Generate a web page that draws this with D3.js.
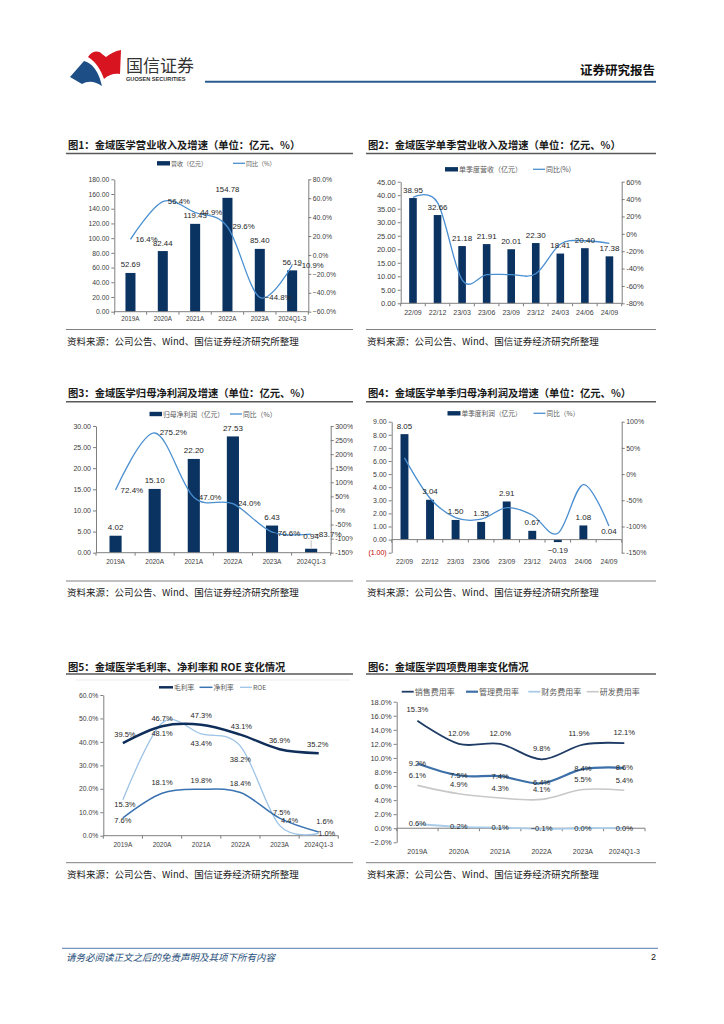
<!DOCTYPE html>
<html>

<head>
  <meta charset="UTF-8" />
  <title>金域医学 经营数据</title>
  <style>
    body {
      margin: 0;
      background: #ffffff;
    }
  </style>
  <script src="https://d3js.org/d3.v7.min.js"></script>
</head>

<body>
  <div id="page"></div>
  <script>
    // ---- data ----
    const years = ["2019A", "2020A", "2021A", "2022A", "2023A", "2024Q1-3"];
    const quarters = ["22/09", "22/12", "23/03", "23/06", "23/09", "23/12", "24/03", "24/06", "24/09"];

    const revenue = [52.69, 82.44, 119.43, 154.78, 85.40, 56.19];
    const revenueYoy = [16.4, 56.4, 44.9, 29.6, -44.8, -10.9];

    const qRevenue = [38.95, 32.66, 21.18, 21.91, 20.01, 22.30, 18.41, 20.40, 17.38];
    const qRevenueYoy = [42, 36, -53, -47, -47, -46, -12, -8, -11];

    const netProfit = [4.02, 15.10, 22.20, 27.53, 6.43, 0.94];
    const netProfitYoy = [72.4, 275.2, 47.0, 24.0, -76.6, -83.7];

    const qNetProfit = [8.05, 3.04, 1.50, 1.35, 2.91, 0.67, -0.19, 1.08, 0.04];
    const qNetProfitYoy = [31, -46, -83, -86, -64, -78, -113, -20, -99];

    const grossMargin = [39.5, 46.7, 47.3, 43.1, 36.9, 35.2];
    const netMargin = [7.6, 18.1, 19.8, 18.4, 7.5, 1.6];
    const roe = [15.3, 48.1, 43.4, 38.2, 4.4, 1.0];

    const sellingRate = [15.3, 12.0, 12.0, 9.8, 11.9, 12.1];
    const adminRate = [9.2, 7.5, 7.4, 6.4, 8.4, 8.6];
    const financeRate = [0.6, 0.2, 0.1, -0.1, 0.0, 0.0];
    const rdRate = [6.1, 4.9, 4.3, 4.1, 5.5, 5.4];

    // tick values
    const c1LeftTicks = [0, 20, 40, 60, 80, 100, 120, 140, 160, 180];
    const c1RightTicks = [-60, -40, -20, 0, 20, 40, 60, 80];
    const c2LeftTicks = [0, 5, 10, 15, 20, 25, 30, 35, 40, 45];
    const c2RightTicks = [-80, -60, -40, -20, 0, 20, 40, 60];
    const c3LeftTicks = [0, 5, 10, 15, 20, 25, 30];
    const c3RightTicks = [-150, -100, -50, 0, 50, 100, 150, 200, 250, 300];
    const c4LeftTicks = [-1, 0, 1, 2, 3, 4, 5, 6, 7, 8, 9];
    const c4RightTicks = [-150, -100, -50, 0, 50, 100];
    const c5Ticks = [0, 10, 20, 30, 40, 50, 60];
    const c6Ticks = [-2, 0, 2, 4, 6, 8, 10, 12, 14, 16, 18];

    // ---- styles ----
    const NAVY = "#0b3362";
    const BLUE = "#4a8fd0";
    const CN = '"Noto Sans CJK SC", sans-serif';
    const NUM = '"Liberation Sans", Arial, sans-serif';
    const SOURCE = "资料来源：公司公告、Wind、国信证券经济研究所整理";

    const fmt2 = d3.format(".2f");
    const pct1 = d => d3.format(".1f")(d) + "%";
    const pct0 = d => d + "%";

    const svg = d3.select("#page").append("svg")
      .attr("width", 724).attr("height", 1024)
      .style("display", "block");
    svg.append("rect").attr("width", 724).attr("height", 1024).attr("fill", "#fff");

    /* Header */
    svg.append("path")
      .attr("d", "M88,57 C92,51 98,50 102,54 L106,57 C110,54 115,51 121,50 L120,74 C114,73 108,75 104,79 C101,70 96,62 88,57 Z")
      .attr("fill", "#d7141f");
    svg.append("path")
      .attr("d", "M70,77 L84,61 C92,63 97,70 100,79 L102,86 C96,82 89,80 82,84 Z")
      .attr("fill", "#1d4f86");
    svg.append("text").attr("x", 126).attr("y", 64).attr("dominant-baseline", "central")
      .style("font-family", CN).style("font-size", "17px").attr("fill", "#333").text("国信证券");
    svg.append("text").attr("x", 126).attr("y", 78.5).attr("dominant-baseline", "central")
      .style("font-family", NUM).style("font-size", "5.6px").style("font-weight", "bold")
      .attr("fill", "#333").text("GUOSEN SECURITIES");
    svg.append("text").attr("x", 655).attr("y", 69).attr("dominant-baseline", "central")
      .attr("text-anchor", "end")
      .style("font-family", CN).style("font-size", "12.5px").style("font-weight", "bold")
      .attr("fill", "#111").text("证券研究报告");
    svg.append("line").attr("x1", 205).attr("x2", 656).attr("y1", 81.7).attr("y2", 81.7)
      .attr("stroke", "#2b5c8f").attr("stroke-width", 2);

    /* Footer */
    svg.append("line").attr("x1", 62).attr("x2", 658).attr("y1", 948.3).attr("y2", 948.3)
      .attr("stroke", "#4f7fae").attr("stroke-width", 1);
    svg.append("text").attr("x", 66).attr("y", 957).attr("dominant-baseline", "central")
      .style("font-family", CN).style("font-size", "9.5px").style("font-style", "italic")
      .attr("fill", "#1f4e79").text("请务必阅读正文之后的免责声明及其项下所有内容");
    svg.append("text").attr("x", 656).attr("y", 957).attr("dominant-baseline", "central")
      .attr("text-anchor", "end")
      .style("font-family", NUM).style("font-size", "9px").attr("fill", "#111").text("2");

    /* Panel frame: title, rule, source */
    function panel(x0, x1, titleY, ruleY, title, srcRuleY, srcY) {
      svg.append("text").attr("x", x0 + 2).attr("y", titleY).attr("dominant-baseline", "central")
        .style("font-family", CN).style("font-size", "10.3px").style("font-weight", "bold")
        .attr("fill", "#1a1a1a").text(title);
      svg.append("line").attr("x1", x0).attr("x2", x1).attr("y1", ruleY).attr("y2", ruleY)
        .attr("stroke", "#595959").attr("stroke-width", 1.5);
      svg.append("line").attr("x1", x0).attr("x2", x1).attr("y1", srcRuleY).attr("y2", srcRuleY)
        .attr("stroke", "#808080").attr("stroke-width", 1);
      svg.append("text").attr("x", x0 + 1).attr("y", srcY).attr("dominant-baseline", "central")
        .style("font-family", CN).style("font-size", "9.5px")
        .attr("fill", "#1a1a1a").text(SOURCE);
    }

    function legend(items, y, fs) {
      items.forEach(it => {
        if (it.type === "bar") {
          svg.append("rect").attr("x", it.x).attr("y", y - 2.2).attr("width", it.w).attr("height", 4.4)
            .attr("fill", it.color);
        } else {
          svg.append("line").attr("x1", it.x).attr("x2", it.x + it.w).attr("y1", y).attr("y2", y)
            .attr("stroke", it.color).attr("stroke-width", it.sw);
        }
        svg.append("text").attr("x", it.x + it.w + 1).attr("y", y).attr("dominant-baseline", "central")
          .style("font-family", CN).style("font-size", fs + "px")
          .attr("fill", "#595959").text(it.label);
      });
    }

    function styleAxis(sel, fs) {
      sel.select(".domain").attr("stroke", "#7f7f7f");
      sel.selectAll(".tick line").attr("stroke", "#7f7f7f");
      sel.selectAll(".tick text").attr("fill", "#404040")
        .style("font-family", NUM).style("font-size", fs + "px");
      return sel;
    }

    function xAxis(g, x, cats, y0, labelY, fs) {
      const [a, b] = x.range();
      g.append("line").attr("x1", a).attr("x2", b).attr("y1", y0).attr("y2", y0)
        .attr("stroke", "#7f7f7f");
      g.selectAll("line.xt").data(d3.range(cats.length + 1)).join("line")
        .attr("class", "xt")
        .attr("x1", i => a + i * x.step()).attr("x2", i => a + i * x.step())
        .attr("y1", y0).attr("y2", y0 + 3)
        .attr("stroke", "#7f7f7f");
      g.selectAll("text.xl").data(cats).join("text")
        .attr("class", "xl")
        .attr("x", d => x(d) + x.bandwidth() / 2).attr("y", labelY)
        .attr("text-anchor", "middle").attr("dominant-baseline", "central")
        .style("font-family", NUM).style("font-size", fs + "px")
        .attr("fill", "#404040").text(d => d);
    }

    /* Bars on the left axis, growth line on the right axis */
    function combo(o) {
      const g = svg.append("g");
      if (o.clipRight) {
        const id = "clip" + Math.round(o.clipRight);
        svg.append("clipPath").attr("id", id).append("rect")
          .attr("x", 0).attr("y", 0).attr("width", o.clipRight).attr("height", 1024);
        g.attr("clip-path", `url(#${id})`);
      }
      const x = d3.scaleBand().domain(o.cats).range(o.xr);
      const yl = d3.scaleLinear().domain(o.ld).range(o.yr);
      const yr = d3.scaleLinear().domain(o.rd).range(o.yr);
      const cx = i => x(o.cats[i]) + x.bandwidth() / 2;

      const la = styleAxis(g.append("g").attr("transform", `translate(${o.xr[0]},0)`)
        .call(d3.axisLeft(yl).tickValues(o.lt).tickFormat(o.lf).tickSize(3).tickSizeOuter(0).tickPadding(2)), o.fs);
      if (o.negRed) la.selectAll(".tick text").attr("fill", d => d < 0 ? "#c00000" : "#404040");
      styleAxis(g.append("g").attr("transform", `translate(${o.xr[1]},0)`)
        .call(d3.axisRight(yr).tickValues(o.rt).tickFormat(o.rf).tickSize(3).tickSizeOuter(0).tickPadding(1.5)), o.fs);

      g.selectAll("rect.bar").data(o.bars).join("rect")
        .attr("class", "bar")
        .attr("x", (d, i) => x(o.cats[i]) + x.bandwidth() * (1 - o.bw) / 2)
        .attr("width", x.bandwidth() * o.bw)
        .attr("y", d => yl(Math.max(0, d)))
        .attr("height", d => Math.abs(yl(d) - yl(0)))
        .attr("fill", NAVY);

      xAxis(g, x, o.cats, yl(0), o.xLabelY, o.xfs);

      g.append("path").datum(o.line)
        .attr("d", d3.line().x((d, i) => cx(i)).y(d => yr(d)).curve(d3.curveCatmullRom.alpha(0)))
        .attr("fill", "none").attr("stroke", BLUE).attr("stroke-width", 1.3);

      g.selectAll("text.bl").data(o.bars).join("text")
        .attr("class", "bl")
        .attr("x", (d, i) => cx(i))
        .attr("y", (d, i) => yl(d) + (d < 0 ? 8 : (o.barDy ? o.barDy[i] : -8)))
        .attr("text-anchor", "middle").attr("dominant-baseline", "central")
        .style("font-family", NUM).style("font-size", o.lfs + "px")
        .attr("fill", "#262626").text(d => fmt2(d));
      if (o.barDy) {
        o.barDy.forEach((dy, i) => {
          if (dy < -12) {
            g.append("line").attr("x1", cx(i)).attr("x2", cx(i))
              .attr("y1", yl(o.bars[i]) + dy + 4).attr("y2", yl(o.bars[i]) - 1)
              .attr("stroke", "#a6a6a6").attr("stroke-width", 0.7);
          }
        });
      }

      if (o.lineDx) {
        g.selectAll("text.ll").data(o.line).join("text")
          .attr("class", "ll")
          .attr("x", (d, i) => cx(i) + o.lineDx[i])
          .attr("y", (d, i) => yr(d) + o.lineDy[i])
          .attr("dominant-baseline", "central")
          .style("font-family", NUM).style("font-size", o.lfs + "px")
          .attr("fill", "#262626").text(d => pct1(d));
      }
    }

    /* Percentage line charts */
    function lines(o) {
      const g = svg.append("g");
      const x = d3.scaleBand().domain(o.cats).range(o.xr);
      const y = d3.scaleLinear().domain(o.domain).range(o.yr);
      const cx = i => x(o.cats[i]) + x.bandwidth() / 2;

      styleAxis(g.append("g").attr("transform", `translate(${o.xr[0]},0)`)
        .call(d3.axisLeft(y).tickValues(o.ticks).tickFormat(pct1).tickSize(3).tickSizeOuter(0).tickPadding(2)), o.fs);
      xAxis(g, x, o.cats, y(0), o.xLabelY, o.xfs);

      o.series.forEach(s => {
        g.append("path").datum(s.values)
          .attr("d", d3.line().x((d, i) => cx(i)).y(d => y(d)).curve(d3.curveCatmullRom.alpha(0)))
          .attr("fill", "none").attr("stroke", s.color).attr("stroke-width", s.sw);
      });
      o.series.forEach(s => {
        g.selectAll(null).data(s.values).join("text")
          .attr("x", (d, i) => cx(i) + s.dx[i])
          .attr("y", (d, i) => y(d) + s.dy[i])
          .attr("text-anchor", "middle").attr("dominant-baseline", "central")
          .style("font-family", NUM).style("font-size", o.lfs + "px")
          .attr("fill", "#262626").text(d => pct1(d));
      });
    }

    /* 图1 */
    panel(66, 353, 144, 153.5, "图1：金域医学营业收入及增速（单位：亿元、%）", 329.5, 340.5);
    legend([
      { type: "bar", x: 157, w: 13, color: NAVY, label: "营收（亿元）" },
      { type: "line", x: 233, w: 12, color: BLUE, sw: 1.3, label: "同比（%）" }
    ], 163.3, 6);
    combo({
      cats: years, bars: revenue, line: revenueYoy,
      xr: [114.3, 308.3], yr: [311.7, 179.3],
      ld: [0, 180], lt: c1LeftTicks, lf: fmt2,
      rd: [-60, 80], rt: c1RightTicks, rf: pct1,
      bw: 0.31, fs: 6.8, xfs: 6.3, lfs: 7.8, xLabelY: 318,
      lineDx: [5, 5, 5, 5, 5, 5], lineDy: [0, 0, 0, 0, 0, 0]
    });

    /* 图2 */
    panel(366, 656, 144, 153.5, "图2：金域医学单季营业收入及增速（单位：亿元、%）", 329.5, 340.5);
    legend([
      { type: "bar", x: 445, w: 13, color: NAVY, label: "单季度营收（亿元）" },
      { type: "line", x: 533, w: 12, color: BLUE, sw: 1.3, label: "同比(%)" }
    ], 169.3, 7);
    combo({
      cats: quarters, bars: qRevenue, line: qRevenueYoy,
      xr: [400.7, 621.7], yr: [303.3, 181.7],
      ld: [0, 45], lt: c2LeftTicks, lf: fmt2,
      rd: [-80, 60], rt: c2RightTicks, rf: pct0,
      bw: 0.31, fs: 7.5, xfs: 7, lfs: 8, xLabelY: 312.5
    });

    /* 图3 */
    panel(66, 353, 392.3, 401.7, "图3：金域医学归母净利润及增速（单位：亿元、%）", 581, 591.7);
    legend([
      { type: "bar", x: 149.5, w: 12.5, color: NAVY, label: "归母净利润（亿元）" },
      { type: "line", x: 230, w: 12, color: BLUE, sw: 1.3, label: "同比（%）" }
    ], 414, 6.8);
    combo({
      cats: years, bars: netProfit, line: netProfitYoy,
      xr: [96, 330.7], yr: [552.7, 426],
      ld: [0, 30], lt: c3LeftTicks, lf: fmt2,
      rd: [-150, 300], rt: c3RightTicks, rf: pct0,
      bw: 0.31, fs: 7, xfs: 6.5, lfs: 8, xLabelY: 561.7, clipRight: 353,
      barDy: [-8, -8, -8, -8, -8, -12.5],
      lineDx: [5, 5, 5, 5, 1, 3], lineDy: [0, 0, 0, 0, 1, 0]
    });

    /* 图4 */
    panel(366, 656, 392.3, 401.7, "图4：金域医学单季归母净利润及增速（单位：亿元、%）", 581, 591.7);
    legend([
      { type: "bar", x: 447.5, w: 13, color: NAVY, label: "单季度利润（亿元）" },
      { type: "line", x: 533.5, w: 12, color: BLUE, sw: 1.3, label: "同比（%）" }
    ], 413.3, 6.7);
    combo({
      cats: quarters, bars: qNetProfit, line: qNetProfitYoy,
      xr: [391.7, 621.7], yr: [552.7, 421.7],
      ld: [-1, 9], lt: c4LeftTicks,
      lf: d => d < 0 ? "(" + fmt2(-d) + ")" : fmt2(d), negRed: true,
      rd: [-150, 100], rt: c4RightTicks, rf: pct0,
      bw: 0.31, fs: 7, xfs: 6.8, lfs: 8, xLabelY: 561.7
    });

    /* 图5 */
    panel(66, 353, 666, 674, "图5：金域医学毛利率、净利率和 ROE 变化情况", 862.7, 874);
    svg.append("line").attr("x1", 76).attr("x2", 350).attr("y1", 680).attr("y2", 680)
      .attr("stroke", "#ececec").attr("stroke-width", 1);
    legend([
      { type: "line", x: 159, w: 14, color: "#0f2f5a", sw: 2.5, label: "毛利率" },
      { type: "line", x: 199.5, w: 13, color: "#3a73b2", sw: 1.5, label: "净利率" },
      { type: "line", x: 240, w: 12, color: "#9dc3e6", sw: 1.3, label: "ROE" }
    ], 687.3, 6.8);
    lines({
      cats: years, xr: [103.3, 338.3], yr: [835.7, 695], domain: [0, 60], ticks: c5Ticks,
      fs: 6.8, xfs: 6.5, lfs: 7.5, xLabelY: 844,
      series: [
        { values: roe, color: "#9dc3e6", sw: 1.3, dx: [2, 0, 0, 0, 10, 8], dy: [5, 10.5, 9.5, 13, -5, 0] },
        { values: netMargin, color: "#3a73b2", sw: 1.5, dx: [0, 0, 0, 0, 2, 6], dy: [3, -10.5, -9, -9, -5.5, -10] },
        { values: grossMargin, color: "#0f2f5a", sw: 2.5, dx: [2, 0, 0, 1, 0, -1], dy: [-9, -8, -9, -8.6, -8.5, -9] }
      ]
    });

    /* 图6 */
    panel(366, 656, 666, 674, "图6：金域医学四项费用率变化情况", 862.7, 874);
    legend([
      { type: "line", x: 401.7, w: 12, color: "#1f3c66", sw: 1.8, label: "销售费用率" },
      { type: "line", x: 466, w: 12, color: "#3d70a8", sw: 2.2, label: "管理费用率" },
      { type: "line", x: 528.3, w: 12, color: "#a9cbe8", sw: 1.8, label: "财务费用率" },
      { type: "line", x: 586.7, w: 12, color: "#c8c8c8", sw: 1.6, label: "研发费用率" }
    ], 691.7, 8);
    lines({
      cats: years, xr: [396.7, 645], yr: [842.3, 701.7], domain: [-2, 18], ticks: c6Ticks,
      fs: 7.5, xfs: 7, lfs: 7.6, xLabelY: 851,
      series: [
        { values: rdRate, color: "#c8c8c8", sw: 1.6, dx: [0, 0, 0, 0, 0, 0], dy: [-9.5, -9.5, -10, -10, -10, -10] },
        { values: financeRate, color: "#a9cbe8", sw: 1.8, dx: [0, 0, 0, 0, 0, 0], dy: [-1, 0, 0, 0, 0, 0] },
        { values: adminRate, color: "#3d70a8", sw: 2.2, dx: [0, 0, 0, 0, 0, 0], dy: [0, 0, 0, -1, -1, 0] },
        { values: sellingRate, color: "#1f3c66", sw: 1.8, dx: [0, 0, 0, 0, -4, 0], dy: [-10.7, -10.6, -10.6, -10.4, -11, -11] }
      ]
    });
  </script>
</body>

</html>
